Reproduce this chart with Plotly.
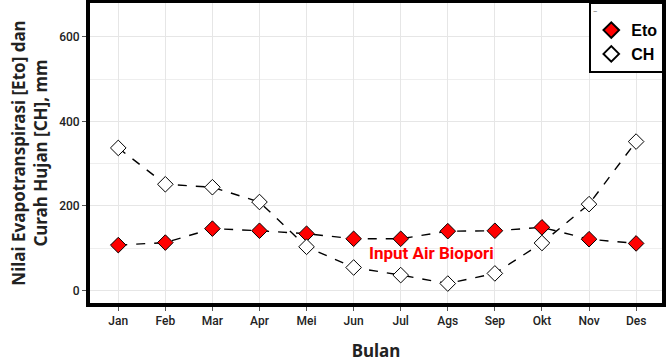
import plotly.graph_objects as go

bulan = ["Jan", "Feb", "Mar", "Apr", "Mei", "Jun", "Jul", "Ags", "Sep", "Okt", "Nov", "Des"]
eto = [107, 113, 146, 141, 134, 122, 122, 140, 141, 149, 121, 111]
ch = [337, 251, 244, 209, 103, 54, 36, 16, 40, 112, 204, 352]
y_ticks = [0, 200, 400, 600]
anno_text = "Input Air Biopori"
anno_pos = (6.65, 88)

fig = go.Figure()
line_style = dict(color="black", width=1.4, dash="dash")
fig.add_trace(go.Scatter(x=bulan, y=eto, mode="lines", line=line_style, showlegend=False, hoverinfo="skip"))
fig.add_trace(go.Scatter(x=bulan, y=ch, mode="lines", line=line_style, showlegend=False, hoverinfo="skip"))
fig.add_trace(go.Scatter(x=bulan, y=eto, mode="markers", name="Eto",
                         marker=dict(symbol="diamond", size=12, color="#ff0000", line=dict(color="black", width=1))))
fig.add_trace(go.Scatter(x=bulan, y=ch, mode="markers", name="CH",
                         marker=dict(symbol="diamond", size=12, color="white", line=dict(color="black", width=1))))

fig.add_annotation(x=anno_pos[0], y=anno_pos[1], text="<b>" + anno_text + "</b>", showarrow=False,
                   font=dict(family="Roboto, sans-serif", size=17, color="#ff0000"))

fig.update_layout(
    width=671, height=364,
    margin=dict(l=90, r=9, t=3, b=61, autoexpand=False),
    paper_bgcolor="white", plot_bgcolor="white",
    font=dict(family="Noto Sans, sans-serif", color="#333"),
    legend=dict(x=1.004, y=1.003, xanchor="right", yanchor="top", bgcolor="white",
                bordercolor="black", borderwidth=2,
                font=dict(family="Liberation Sans, Arial, sans-serif", size=16, color="black", weight="bold"),
                title=dict(text="<span style='color:#888'>–</span>", font=dict(size=7)),
                itemsizing="constant", tracegroupgap=2),
    xaxis=dict(range=[-0.6, 11.55], showline=True, linecolor="black", linewidth=4, mirror=True,
               showgrid=True, gridcolor="#e6e6e6", gridwidth=1, automargin=False,
               ticks="outside", ticklen=4, tickcolor="#555", tickwidth=1,
               tickfont=dict(family="Roboto, sans-serif", size=12, color="#222", weight=500),
               title=dict(text="<b>Bulan</b>", font=dict(family="Noto Sans, sans-serif", size=17, color="#222"), standoff=19),
               zeroline=False),
    yaxis=dict(range=[-30, 680], showline=True, linecolor="black", linewidth=4, mirror=True,
               tickvals=y_ticks, ticks="outside", ticklen=4, tickcolor="#555", tickwidth=1,
               showgrid=True, gridcolor="#e6e6e6", gridwidth=1, automargin=False,
               minor=dict(dtick=100, showgrid=True, gridcolor="#eeeeee", gridwidth=1, ticks=""),
               tickfont=dict(family="Roboto, sans-serif", size=12, color="#222", weight=500),
               title=dict(text="<b>Nilai Evapotranspirasi [Eto] dan<br>Curah Hujan [CH], mm</b>",
                          font=dict(family="Noto Sans, sans-serif", size=17, color="#222"), standoff=8),
               zeroline=False),
)

fig.write_html("out.html", config={"displayModeBar": False},
               post_script="document.body.style.margin='0';")
